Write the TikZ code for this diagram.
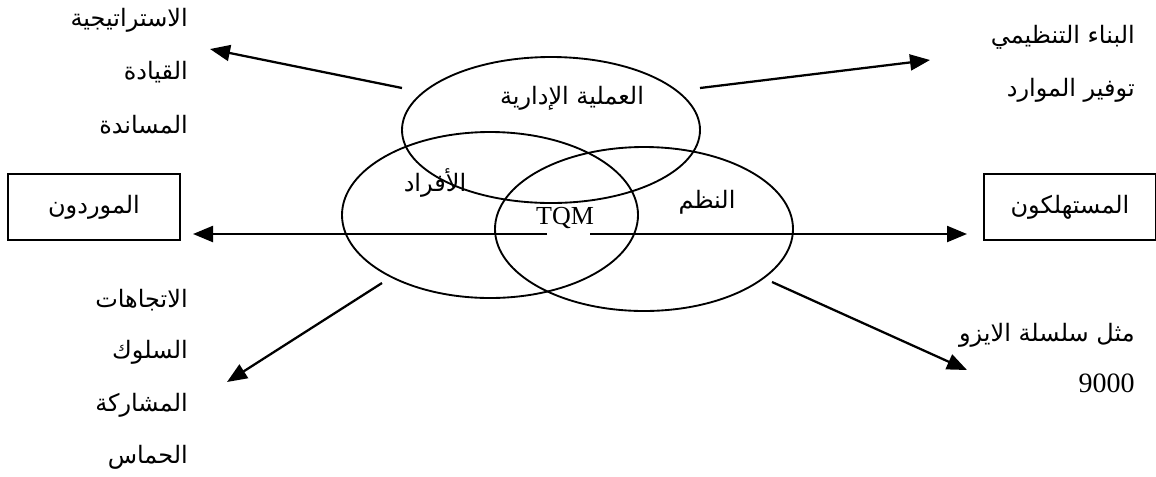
\documentclass[tikz,border=0pt]{standalone}
\usepackage{fontspec}
\setmainfont{Liberation Serif}
\newfontfamily\arabicfont[Script=Arabic]{DejaVu Sans}
\TeXXeTstate=1
\usetikzlibrary{shapes.geometric,arrows.meta}
\newcommand{\ar}[1]{{\arabicfont\beginR #1\endR}}
\begin{document}
\begin{tikzpicture}[x=0.75pt,y=-0.75pt,
  ell/.style={ellipse,draw,line width=1.4pt,inner sep=0pt},
  lbl/.style={font=\fontsize{18}{20}\selectfont,inner sep=0pt},
  side/.style={lbl,anchor=east},
  boxnode/.style={draw,line width=1.3pt,minimum width=172*0.75pt,minimum height=66*0.75pt,inner sep=0pt,font=\fontsize{18}{20}\selectfont},
  arr/.style={line width=1.7pt,-{Triangle[length=15pt,width=12pt]}}]
\useasboundingbox (0,0) rectangle (1156,476);
% ellipses
\node[ell,minimum width=298*0.75pt,minimum height=146*0.75pt] (ma) at (551,130) {};
\node[ell,minimum width=296*0.75pt,minimum height=166*0.75pt] (ppl) at (490,215) {};
\node[ell,minimum width=298*0.75pt,minimum height=164*0.75pt] (sys) at (644,229) {};
% inner labels
\node[lbl] (lma) at (572,98) {\ar{العملية الإدارية}};
\node[lbl] (lppl) at (435,183) {\ar{الأفراد}};
\node[lbl] (lsys) at (707,202) {\ar{النظم}};
\node[inner sep=0pt,font=\fontsize{19.5}{22}\selectfont] (tqm) at (565,218) {TQM};
% boxes
\node[boxnode] (sup) at (94,207) {\ar{الموردون}};
\node[boxnode] (cons) at (1070,207) {\ar{المستهلكون}};
% side labels
\node[side] (s1) at (188,20) {\ar{الاستراتيجية}};
\node[side] (s2) at (188,72) {\ar{القيادة}};
\node[side] (s3) at (188,125) {\ar{المساندة}};
\node[side] (r1) at (1135,37) {\ar{البناء التنظيمي}};
\node[side] (r2) at (1135,90) {\ar{توفير الموارد}};
\node[side] (b1) at (188,300) {\ar{الاتجاهات}};
\node[side] (b2) at (188,352) {\ar{السلوك}};
\node[side] (b3) at (188,405) {\ar{المشاركة}};
\node[side] (b4) at (188,457) {\ar{الحماس}};
\node[side] (i1) at (1135,335) {\ar{مثل سلسلة الايزو}};
\node[side,font=\fontsize{21}{23}\selectfont] (i2) at (1135,383) {9000};
% connector endpoints
\coordinate (tl0) at (402,88);
\coordinate (tl1) at (210,49);
\coordinate (tr0) at (700,88);
\coordinate (tr1) at (930,60);
\coordinate (bl0) at (382,283);
\coordinate (bl1) at (227,382);
\coordinate (br0) at (772,282);
\coordinate (br1) at (967,370);
\coordinate (hl0) at (547,234);
\coordinate (hl1) at (193,234);
\coordinate (hr0) at (590,234);
\coordinate (hr1) at (967,234);
\draw[arr] (tl0) -- (tl1);
\draw[arr] (tr0) -- (tr1);
\draw[arr] (bl0) -- (bl1);
\draw[arr] (br0) -- (br1);
\draw[arr] (hl0) -- (hl1);
\draw[arr] (hr0) -- (hr1);
\end{tikzpicture}
\end{document}
